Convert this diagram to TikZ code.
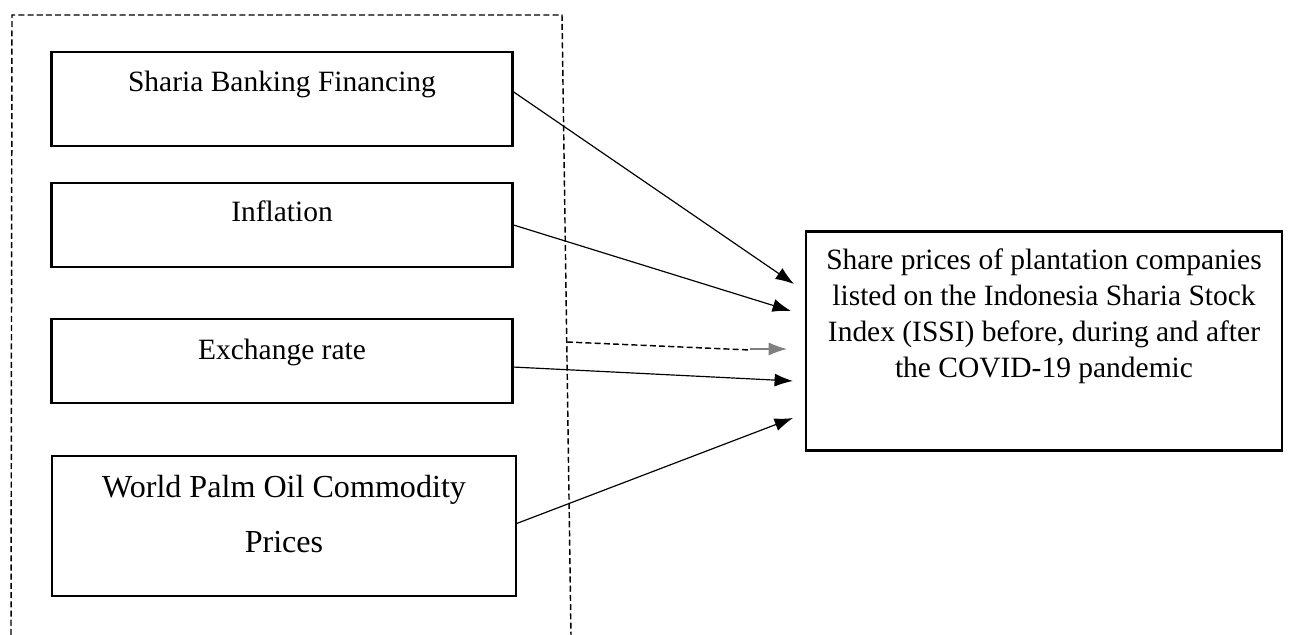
\documentclass[tikz,border=0pt]{standalone}
\usepackage{fontspec}
\setmainfont{Liberation Serif}
\usetikzlibrary{arrows.meta,positioning}
\newcommand{\px}{0.38pt}

\begin{document}
\begin{tikzpicture}[x=\px, y=-\px, font=\fontsize{11.2}{13.7}\selectfont,
    varbox/.style={draw, line width=0.8pt, minimum width=461*\px, inner sep=0pt},
    goal/.style={draw, line width=0.8pt, minimum width=476*\px, minimum height=219*\px, inner sep=0pt},
    link/.style={line width=0.45pt, -{Latex[length=7pt,width=5pt]}}]
\useasboundingbox (0,0) rectangle (1289,635);
\draw[dash pattern=on 2.3pt off 1.2pt, line width=0.55pt] (11,635) -- (12,15) -- (562,15) -- (571,635);

\node[varbox, minimum height=94*\px] (fin) at (282,99) {};
\node[anchor=base] at (282,92) {Sharia Banking Financing};
\node[varbox, minimum height=84*\px] (infl) at (282,225) {};
\node[anchor=base] at (282,222) {Inflation};
\node[varbox, minimum height=84*\px] (exch) at (282,361) {};
\node[anchor=base] at (282,360) {Exchange rate};
\node[varbox, minimum width=464*\px, minimum height=140*\px] (palm) at (284,526) {};
\node[anchor=base, align=center, font=\fontsize{12.2}{20.9}\selectfont] at (284,553) {World Palm Oil Commodity\\Prices};

\node[goal] (isp) at (1044,341) {};
\node[anchor=base, align=center] at (1044,378)
    {Share prices of plantation companies\\listed on the Indonesia Sharia Stock\\Index (ISSI) before, during and after\\the COVID-19 pandemic};

\coordinate (t1) at (794,284);
\coordinate (t2) at (791,311);
\coordinate (t3) at (793,381);
\coordinate (t4) at (793,418);
\coordinate (d0) at (567,342);
\coordinate (d1) at (750,350);
\coordinate (d2) at (787,349);

\draw[link] ([yshift=2.7pt]fin.east) -- (t1);
\draw[link] (infl.east) -- (t2);
\draw[link] ([yshift=-2.3pt]exch.east) -- (t3);
\draw[link] ([yshift=1pt]palm.east) -- (t4);
\draw[dash pattern=on 2.3pt off 1.2pt, line width=0.55pt] (d0) -- (d1);
\draw[link, gray] (d1 |- d2) -- (d2);
\end{tikzpicture}
\end{document}
